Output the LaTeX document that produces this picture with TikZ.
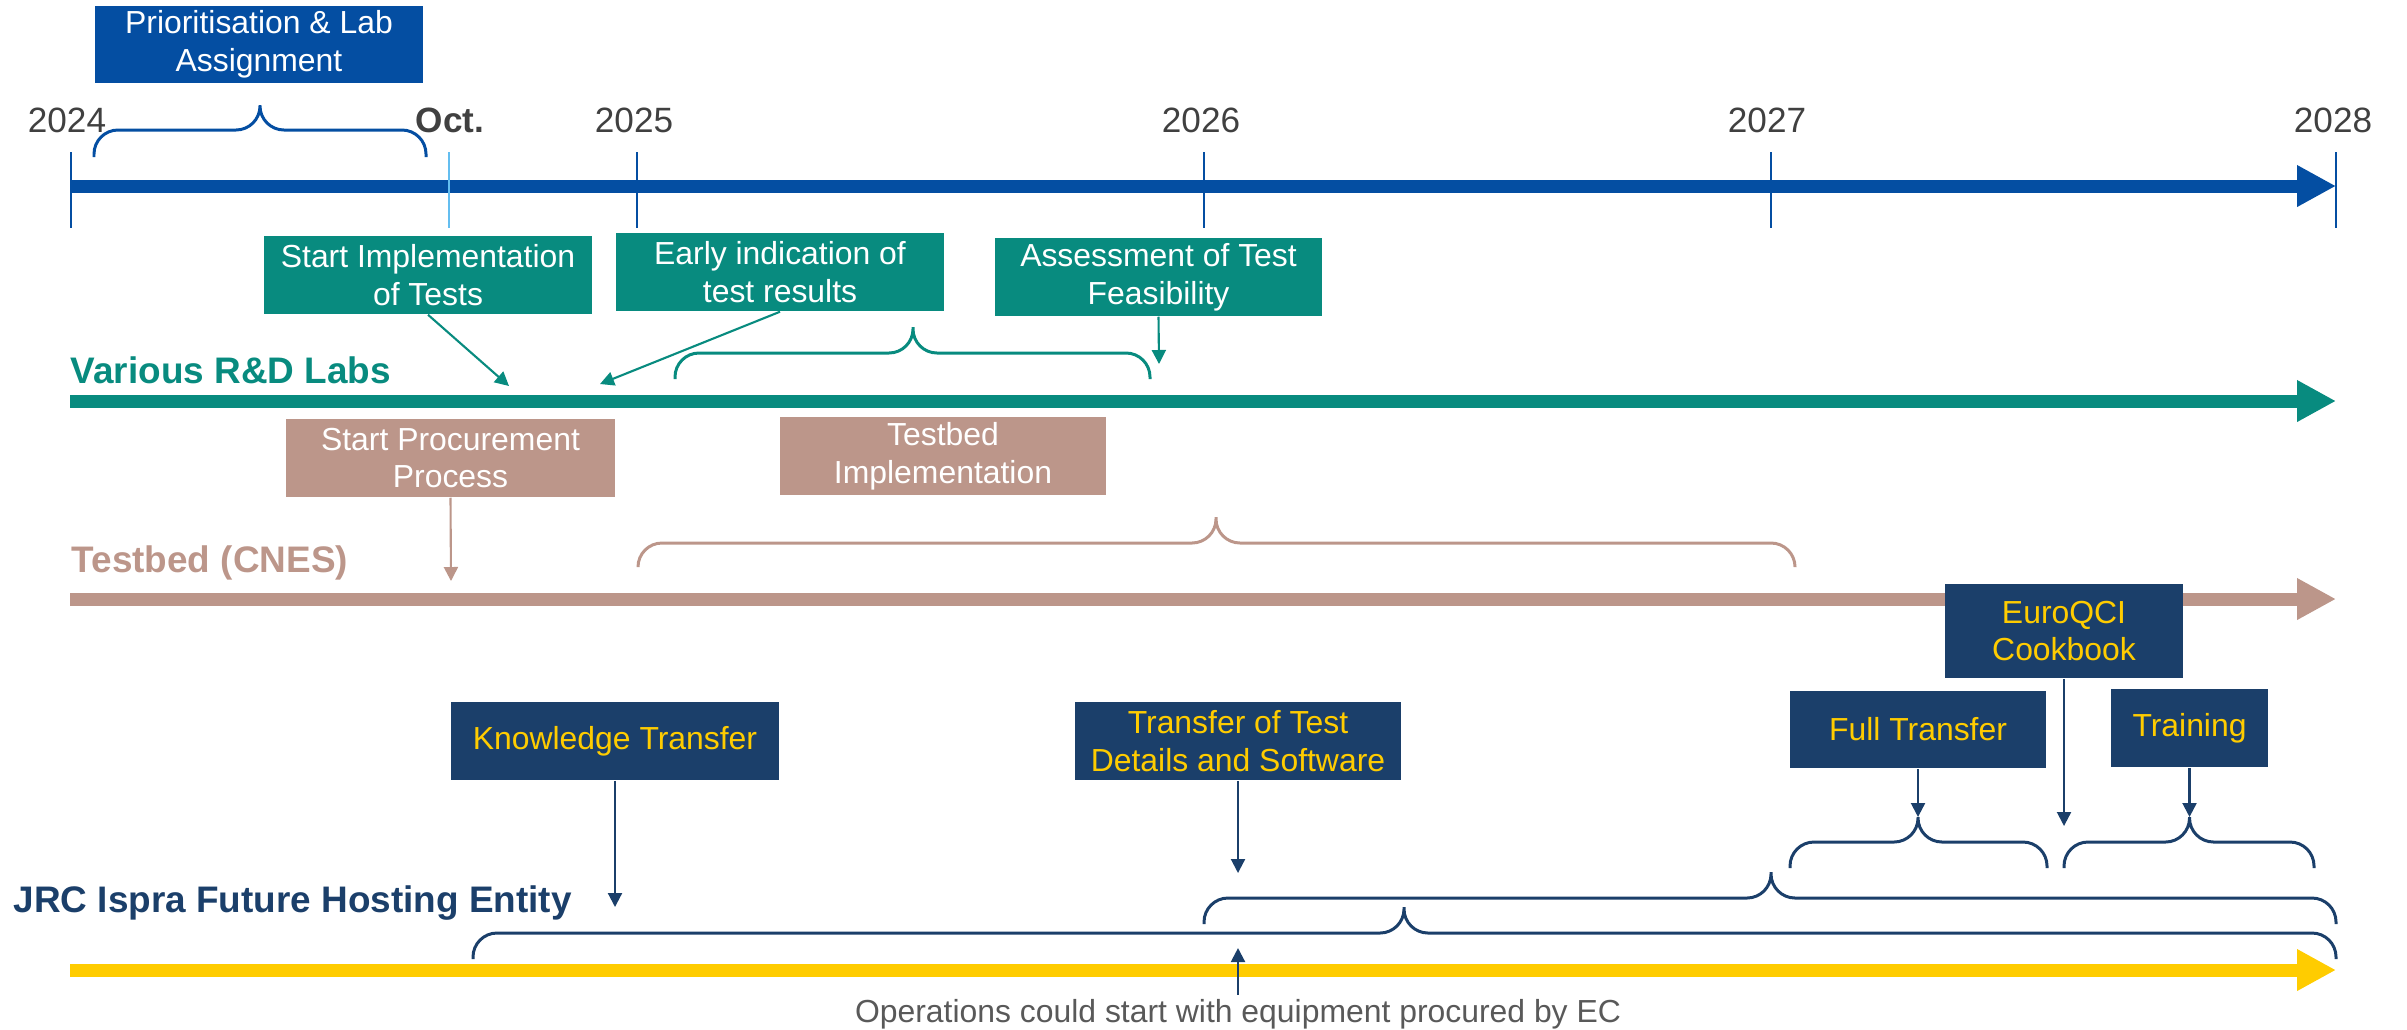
\documentclass[tikz,border=0pt]{standalone}
\usepackage{fontspec}
\setmainfont{Liberation Sans}
\usepackage{xcolor}
\usetikzlibrary{arrows.meta, positioning}

\definecolor{axisblue}{RGB}{4,78,162}
\definecolor{octblue}{RGB}{100,190,240}
\definecolor{labteal}{RGB}{8,139,127}
\definecolor{cnestan}{RGB}{188,150,138}
\definecolor{jrcnavy}{RGB}{27,63,106}
\definecolor{jrcyellow}{RGB}{255,204,0}
\definecolor{yeargray}{RGB}{64,64,64}
\definecolor{notegray}{RGB}{89,89,89}

\newcommand{\bxfont}{\fontsize{9.07pt}{10.8pt}\selectfont}
\newcommand{\yrfont}{\fontsize{10pt}{12pt}\selectfont}
\newcommand{\lanefont}{\fontsize{10.5pt}{12.6pt}\selectfont\bfseries}

\begin{document}
\begin{tikzpicture}[x=0.01cm, y=-0.01cm]
    \tikzstyle{box} = [rectangle, minimum width=3.28cm, minimum height=0.78cm, inner sep=0pt, align=center, font=\bxfont]
    \tikzstyle{labbox} = [box, fill=labteal, text=white]
    \tikzstyle{cnesbox} = [box, fill=cnestan, text=white]
    \tikzstyle{jrcbox} = [box, fill=jrcnavy, text=jrcyellow]
    \tikzstyle{lane} = [line width=3.7pt, -{Triangle[length=0.39cm, width=0.39cm]}]
    \tikzstyle{yrtick} = [line width=0.6pt]
    \tikzstyle{yr} = [anchor=base, inner sep=0pt, font=\yrfont, text=yeargray]
    \tikzstyle{lanelbl} = [anchor=base west, inner sep=0pt, font=\lanefont]
    \tikzstyle{ptr} = [line width=0.6pt, -{Triangle[length=0.14cm, width=0.14cm]}]
    \tikzstyle{brc} = [line width=0.85pt, rounded corners=0.24cm]

    \useasboundingbox (0,0) rectangle (2407,1029);

    % time axis
    \draw[lane, axisblue] (71,186) -- (2336,186);
    \foreach \x in {71, 637, 1204, 1771, 2336}
        \draw[yrtick, axisblue] (\x,152) -- (\x,228);
    \draw[yrtick, octblue] (449,152) -- (449,228);

    \node[yr] (y24) at (67,132) {2024};
    \node[yr, font=\yrfont\bfseries] (oct) at (450,132) {Oct.};
    \node[yr] (y25) at (634,132) {2025};
    \node[yr] (y26) at (1201,132) {2026};
    \node[yr] (y27) at (1767,132) {2027};
    \node[yr] (y28) at (2333,132) {2028};

    \node[box, fill=axisblue, text=white, minimum height=0.77cm] (prio) at (259,44.5) {Prioritisation \& Lab\\Assignment};
    \draw[brc, axisblue] (94,157) |- (260,130) -- (260,105) (260,105) -- (260,130) -| (426,157);

    % lanes
    \draw[lane, labteal] (70,401) -- (2336,401);
    \draw[lane, cnestan] (70,599) -- (2336,599);
    \draw[lane, jrcyellow] (70,970) -- (2336,970);

    \node[lanelbl, labteal] (labs) at (70,383) {Various R\&D Labs};
    \node[lanelbl, cnestan] (cnes) at (71,572) {Testbed (CNES)};
    \node[lanelbl, jrcnavy] (jrc) at (13,912) {JRC Ispra Future Hosting Entity};

    % R&D labs
    \node[labbox] (impl) at (428,275) {Start Implementation\\of Tests};
    \node[labbox] (early) at (780,272) {Early indication of\\test results};
    \node[labbox, minimum width=3.27cm] (assess) at (1158.5,277) {Assessment of Test\\Feasibility};

    \coordinate (implTip) at (509,386);
    \coordinate (earlyTip) at (600,384);
    \coordinate (assessTip) at (1159,364);
    \draw[ptr, labteal] (impl.south) -- (implTip);
    \draw[ptr, labteal] (early.south) -- (earlyTip);
    \draw[ptr, labteal] (assess.south) -- (assessTip);
    \draw[brc, labteal] (675,379) |- (913,353) -- (913,327) (913,327) -- (913,353) -| (1150,379);

    % testbed
    \node[cnesbox, minimum width=3.29cm] (procure) at (450.5,458) {Start Procurement\\Process};
    \node[cnesbox, minimum width=3.26cm] (tbimpl) at (943,456) {Testbed\\Implementation};

    \coordinate (procureTip) at (451,581);
    \draw[ptr, cnestan] (procure.south) -- (procureTip);
    \draw[brc, cnestan] (638,567) |- (1216,543) -- (1216,517) (1216,517) -- (1216,543) -| (1795,567);

    % hosting entity
    \node[jrcbox, minimum width=2.38cm, minimum height=0.94cm] (cookbook) at (2064,631) {EuroQCI\\Cookbook};
    \node[jrcbox, minimum width=2.56cm, minimum height=0.77cm] (fulltr) at (1918,729.5) {Full Transfer};
    \node[jrcbox, minimum width=1.57cm] (training) at (2189.5,728) {Training};
    \node[jrcbox] (knowledge) at (615,741) {Knowledge Transfer};
    \node[jrcbox, minimum width=3.26cm] (testsw) at (1238,741) {Transfer of Test\\Details and Software};

    \coordinate (knowledgeTip) at (615,907);
    \coordinate (testswTip) at (1238,873);
    \coordinate (fulltrTip) at (1918,817);
    \coordinate (trainingTip) at (2189.5,817);
    \coordinate (cookbookTip) at (2064,826);
    \draw[ptr, jrcnavy] (knowledge.south) -- (knowledgeTip);
    \draw[ptr, jrcnavy] (testsw.south) -- (testswTip);
    \draw[ptr, jrcnavy] (fulltr.south) -- (fulltrTip);
    \draw[ptr, jrcnavy] (training.south) -- (trainingTip);
    \draw[ptr, jrcnavy] (cookbook.south) -- (cookbookTip);

    \draw[brc, jrcnavy] (1790,868) |- (1918,842) -- (1918,817) (1918,817) -- (1918,842) -| (2047,868);
    \draw[brc, jrcnavy] (2064,868) |- (2189.5,842) -- (2189.5,817) (2189.5,817) -- (2189.5,842) -| (2314,868);
    \draw[brc, jrcnavy] (1204,924) |- (1771,898) -- (1771,872) (1771,872) -- (1771,898) -| (2336,924);
    \draw[brc, jrcnavy] (473,959) |- (1404,933) -- (1404,907) (1404,907) -- (1404,933) -| (2336,959);

    \node[anchor=base, inner sep=1pt, font=\bxfont, text=notegray] (ops) at (1238,1022) {Operations could start with equipment procured by EC};
    \coordinate (opsTip) at (1238,948);
    \draw[ptr, jrcnavy] (ops.north) -- (opsTip);
\end{tikzpicture}
\end{document}
